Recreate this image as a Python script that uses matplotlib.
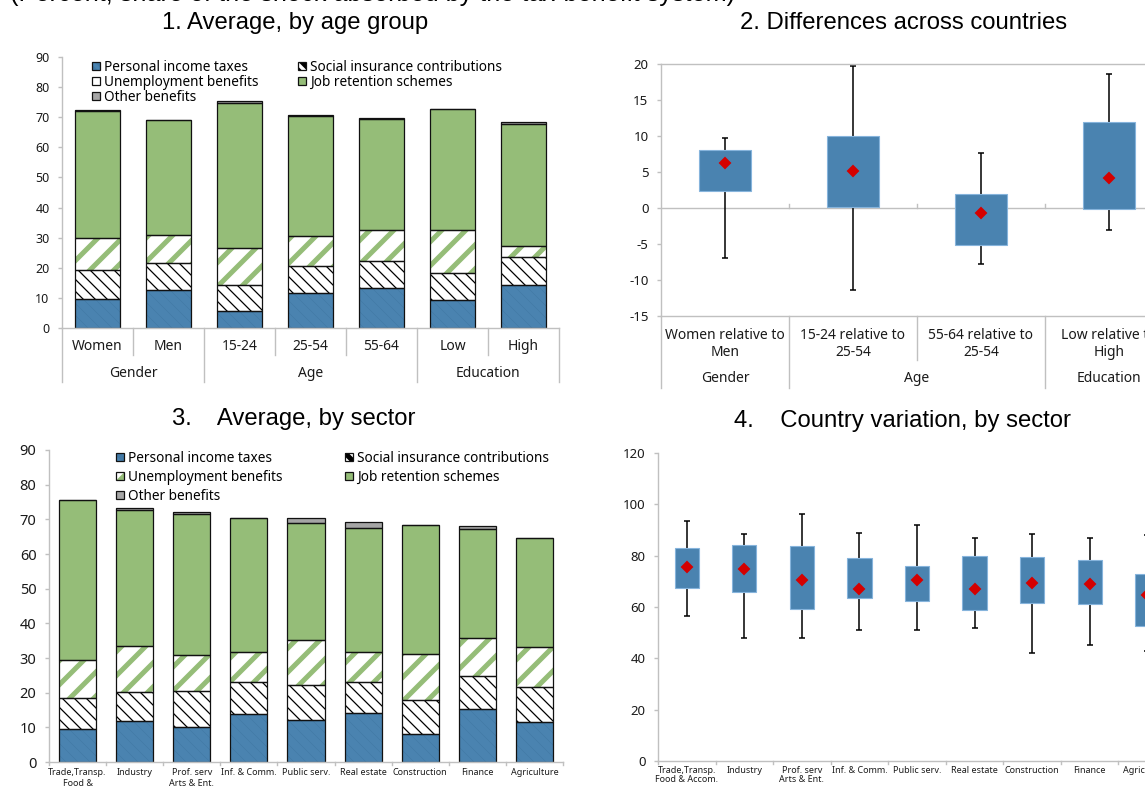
import numpy as np
import matplotlib.pyplot as plt

plt.rcParams['font.family'] = ['Noto Sans', 'DejaVu Sans']
plt.rcParams['axes.unicode_minus'] = False

W, H = 1145, 786
DPI = 144


def sz(p):
    # sizes below are written as points at 100 dpi
    return p * 100 / DPI


BLUE = '#4a83b0'
GREEN = '#95bd78'
GREY = '#a5a5a5'
SPINE = '#c0c0c0'
TXT = '#1a1a1a'
RED = '#d40000'
BOXEDGE = '#86b4dc'

# Panel 1: average by age group (segment sizes, percent)
age_cats = ['Women', 'Men', '15-24', '25-54', '55-64', 'Low', 'High']
age_groups = ['Gender', 'Age', 'Education']
age_group_span = [(0, 2), (2, 5), (5, 7)]
pit_age = [9.6, 12.7, 5.6, 11.6, 13.3, 9.4, 14.4]
sic_age = [9.7, 8.9, 8.6, 9.1, 8.8, 8.9, 9.2]
ub_age = [10.6, 9.3, 12.4, 9.7, 10.3, 14.2, 3.7]
jrs_age = [42.1, 38.1, 48.1, 40.0, 37.1, 40.1, 40.6]
oth_age = [0.3, 0.1, 0.7, 0.3, 0.1, 0.1, 0.4]

# Panel 2: differences across countries
diff_cats = ['Women relative to\nMen', '15-24 relative to\n25-54',
             '55-64 relative to\n25-54', 'Low relative to\nHigh']
diff_groups = ['Gender', 'Age', 'Education']
diff_group_span = [(0, 1), (1, 3), (3, 4)]
diff_lo = [-7.0, -11.4, -7.8, -3.1]
diff_q1 = [2.3, 0.2, -5.2, -0.2]
diff_q3 = [8.1, 10.0, 1.9, 12.0]
diff_hi = [9.7, 19.7, 7.6, 18.6]
diff_mean = [6.2, 5.2, -0.7, 4.1]

# Panel 3: average by sector
sec_cats3 = ['Trade,Transp.\nFood &\nAccom.', 'Industry', 'Prof. serv\nArts & Ent.',
             'Inf. & Comm.', 'Public serv.', 'Real estate', 'Construction',
             'Finance', 'Agriculture']
pit_sec = [9.6, 11.7, 10.2, 13.8, 12.2, 14.1, 8.2, 15.3, 11.4]
sic_sec = [8.9, 8.6, 10.2, 9.3, 10.1, 9.0, 9.8, 9.4, 10.2]
ub_sec = [10.8, 13.3, 10.6, 8.5, 12.9, 8.6, 13.1, 11.2, 11.5]
jrs_sec = [46.4, 39.1, 40.6, 38.7, 33.7, 35.8, 37.2, 31.3, 31.5]
oth_sec = [0.0, 0.5, 0.6, 0.2, 1.6, 1.6, 0.0, 0.8, 0.0]

# Panel 4: country variation by sector
sec_cats4 = ['Trade,Transp.\nFood & Accom.', 'Industry', 'Prof. serv\nArts & Ent.',
             'Inf. & Comm.', 'Public serv.', 'Real estate', 'Construction',
             'Finance', 'Agriculture']
sec_lo = [56.5, 47.9, 47.9, 50.9, 51.2, 51.7, 41.9, 45.2, 43.0]
sec_q1 = [67.3, 65.7, 59.1, 63.6, 62.5, 59.0, 61.4, 61.0, 52.5]
sec_q3 = [82.8, 84.1, 83.8, 79.0, 75.9, 79.8, 79.4, 78.2, 73.0]
sec_hi = [93.5, 88.4, 96.4, 88.8, 91.9, 86.8, 88.4, 86.9, 87.9]
sec_mean = [75.6, 74.8, 70.4, 67.2, 70.4, 67.0, 69.2, 68.9, 64.8]

legend_labels = ['Personal income taxes', 'Social insurance contributions',
                 'Unemployment benefits', 'Job retention schemes', 'Other benefits']


def px_axes(left, top, right, bottom):
    return fig.add_axes([left / W, 1 - bottom / H, (right - left) / W, (bottom - top) / H])


def style_axes(ax, ysize):
    for s in ['top', 'right']:
        ax.spines[s].set_visible(False)
    for s in ['left', 'bottom']:
        ax.spines[s].set_color(SPINE)
        ax.spines[s].set_linewidth(sz(1.0))
    ax.tick_params(axis='y', direction='out', length=sz(3), width=sz(1.0), color=SPINE,
                   labelsize=sz(ysize), labelcolor=TXT, pad=sz(6))
    ax.tick_params(axis='x', length=0)
    ax.set_xticks([])


def sep(ax, x, h_ax, px_len, y0=0.0):
    ax.plot([x, x], [y0, y0 - px_len / h_ax], transform=ax.get_xaxis_transform(),
            color=SPINE, lw=sz(1.0), clip_on=False)


def set_hatch_lw(bars, lw):
    for p in bars:
        if hasattr(p, 'set_hatch_linewidth'):
            p.set_hatch_linewidth(lw)


def stacked(ax, comps, width):
    pit, sic, ub, jrs, oth = [np.array(c) for c in comps]
    x = np.arange(len(pit))
    b1 = pit
    b2 = b1 + sic
    b3 = b2 + ub
    b4 = b3 + jrs
    plt.rcParams['hatch.linewidth'] = sz(0.4)
    h_pit = ax.bar(x, pit, width, color=BLUE, edgecolor='#4279a5', hatch='\\\\\\\\', linewidth=0)
    set_hatch_lw(h_pit, sz(0.4))
    plt.rcParams['hatch.linewidth'] = sz(0.9)
    h_sic = ax.bar(x, sic, width, bottom=b1, color='white', edgecolor='black',
                   hatch='\\\\\\\\', linewidth=0)
    set_hatch_lw(h_sic, sz(0.9))
    plt.rcParams['hatch.linewidth'] = sz(3.6)
    h_ub = ax.bar(x, ub, width, bottom=b2, color='white', edgecolor=GREEN,
                  hatch='//', linewidth=0)
    set_hatch_lw(h_ub, sz(3.6))
    h_jrs = ax.bar(x, jrs, width, bottom=b3, color=GREEN, linewidth=0)
    h_oth = ax.bar(x, oth, width, bottom=b4, color=GREY, linewidth=0)
    outlines = []
    for vals, bot in [(pit, 0), (sic, b1), (ub, b2), (jrs, b3), (oth, b4)]:
        outlines.append(ax.bar(x, vals, width, bottom=bot, fill=False,
                               edgecolor='#111111', linewidth=sz(0.9)))
    hs = [(h_pit[0], outlines[0][0]), (h_sic[0], outlines[1][0]),
          (h_ub[0], outlines[2][0]), (h_jrs[0], outlines[3][0]),
          (h_oth[0], outlines[4][0])]
    return hs


def add_legend(ax, hs, x0, y0, fs, lspace, cspace):
    order = [0, 2, 4, 1, 3]
    ax.legend([hs[i] for i in order], [legend_labels[i] for i in order],
              ncol=2, loc='upper left', bbox_to_anchor=(x0, y0), frameon=False,
              fontsize=sz(fs), handlelength=0.6, handleheight=0.6, handletextpad=0.3,
              labelspacing=lspace, columnspacing=cspace, borderaxespad=0, borderpad=0)


def boxes(ax, lo, q1, q3, hi, mean, width):
    x = np.arange(len(lo))
    ax.vlines(x, lo, hi, color='black', lw=sz(1.1), zorder=2)
    ax.plot(x, lo, ls='none', marker='_', ms=sz(4), mew=sz(1.1), color='black', zorder=2)
    ax.plot(x, hi, ls='none', marker='_', ms=sz(4), mew=sz(1.1), color='black', zorder=2)
    ax.bar(x, np.array(q3) - np.array(q1), width, bottom=q1, color=BLUE,
           edgecolor=BOXEDGE, linewidth=sz(0.8), zorder=3)
    ax.plot(x, mean, ls='none', marker='D', ms=sz(5.5), color=RED, mec=RED, zorder=4)


fig = plt.figure(figsize=(W / DPI, H / DPI), dpi=DPI)

fig.text(10 / W, 1 - 1 / H, '(Percent, share of the shock absorbed by the tax-benefit system)',
         family='Liberation Sans', fontsize=sz(18.2), ha='left', va='baseline', color='black')

title_kw = dict(family='Liberation Sans', fontsize=sz(17.2), ha='center', va='center', color='black')
fig.text(295 / W, 1 - 23 / H, '1. Average, by age group', **title_kw)
fig.text(904 / W, 1 - 23 / H, '2. Differences across countries', **title_kw)
fig.text(294 / W, 1 - 419 / H, '3.    Average, by sector', **title_kw)
fig.text(903 / W, 1 - 421 / H, '4.    Country variation, by sector', **title_kw)

# ---- panel 1
h1 = 271
ax1 = px_axes(62, 57, 559, 328)
style_axes(ax1, 9)
hs = stacked(ax1, [pit_age, sic_age, ub_age, jrs_age, oth_age], 0.64)
ax1.set_xlim(-0.5, len(age_cats) - 0.5)
ax1.set_ylim(0, 90)
ax1.set_yticks(range(0, 91, 10))
add_legend(ax1, hs, 0.06, 0.99, 9.8, 0.0, 2.9)
for i, c in enumerate(age_cats):
    ax1.text(i, -19 / h1, c, transform=ax1.get_xaxis_transform(), ha='center',
             va='center', fontsize=sz(10), color=TXT)
for name, (a, b) in zip(age_groups, age_group_span):
    ax1.text((a + b - 1) / 2, -46 / h1, name, transform=ax1.get_xaxis_transform(),
             ha='center', va='center', fontsize=sz(10), color=TXT)
for a, b in age_group_span:
    sep(ax1, a - 0.5, h1, 54)
    for k in range(a + 1, b):
        sep(ax1, k - 0.5, h1, 27)
sep(ax1, len(age_cats) - 0.5, h1, 54)

# ---- panel 2
h2 = 252
ax2 = px_axes(661, 64, 1173, 316)
style_axes(ax2, 9.5)
ax2.spines['top'].set_visible(True)
ax2.spines['top'].set_color(SPINE)
ax2.spines['top'].set_linewidth(sz(1.0))
boxes(ax2, diff_lo, diff_q1, diff_q3, diff_hi, diff_mean, 0.41)
ax2.axhline(0, color=SPINE, lw=sz(1.0), zorder=1)
ax2.set_xlim(-0.5, len(diff_cats) - 0.5)
ax2.set_ylim(-15, 20)
ax2.set_yticks(range(-15, 21, 5))
for k in range(1, len(diff_cats)):
    ax2.plot([k - 0.5, k - 0.5], [0, 0.6], color=SPINE, lw=sz(1.0), zorder=1)
for i, c in enumerate(diff_cats):
    ax2.text(i, -28 / h2, c, transform=ax2.get_xaxis_transform(), ha='center',
             va='center', fontsize=sz(10), color=TXT, linespacing=1.15)
for name, (a, b) in zip(diff_groups, diff_group_span):
    ax2.text((a + b - 1) / 2, -63 / h2, name, transform=ax2.get_xaxis_transform(),
             ha='center', va='center', fontsize=sz(10), color=TXT)
for a, b in diff_group_span:
    sep(ax2, a - 0.5, h2, 72)
    for k in range(a + 1, b):
        sep(ax2, k - 0.5, h2, 44)
sep(ax2, len(diff_cats) - 0.5, h2, 72)

# ---- panel 3
h3 = 312
ax3 = px_axes(49, 450, 563, 762)
style_axes(ax3, 10.5)
hs3 = stacked(ax3, [pit_sec, sic_sec, ub_sec, jrs_sec, oth_sec], 0.65)
ax3.set_xlim(-0.5, len(sec_cats3) - 0.5)
ax3.set_ylim(0, 90)
ax3.set_yticks(range(0, 91, 10))
add_legend(ax3, hs3, 0.13, 0.998, 9.8, 0.3, 4.6)
for i, c in enumerate(sec_cats3):
    ax3.text(i, -6 / h3, c, transform=ax3.get_xaxis_transform(), ha='center',
             va='top', fontsize=sz(6.5), color=TXT, linespacing=1.3)
for k in range(len(sec_cats3) + 1):
    sep(ax3, k - 0.5, h3, 3)

# ---- panel 4
h4 = 308
ax4 = px_axes(658, 453, 1176, 761)
style_axes(ax4, 9.5)
boxes(ax4, sec_lo, sec_q1, sec_q3, sec_hi, sec_mean, 0.42)
ax4.set_xlim(-0.5, len(sec_cats4) - 0.5)
ax4.set_ylim(0, 120)
ax4.set_yticks(range(0, 121, 20))
for i, c in enumerate(sec_cats4):
    ax4.text(i, -5 / h4, c, transform=ax4.get_xaxis_transform(), ha='center',
             va='top', fontsize=sz(6.5), color=TXT, linespacing=1.05)
for k in range(len(sec_cats4) + 1):
    sep(ax4, k - 0.5, h4, 3)

fig.savefig('out.png', dpi=DPI)
